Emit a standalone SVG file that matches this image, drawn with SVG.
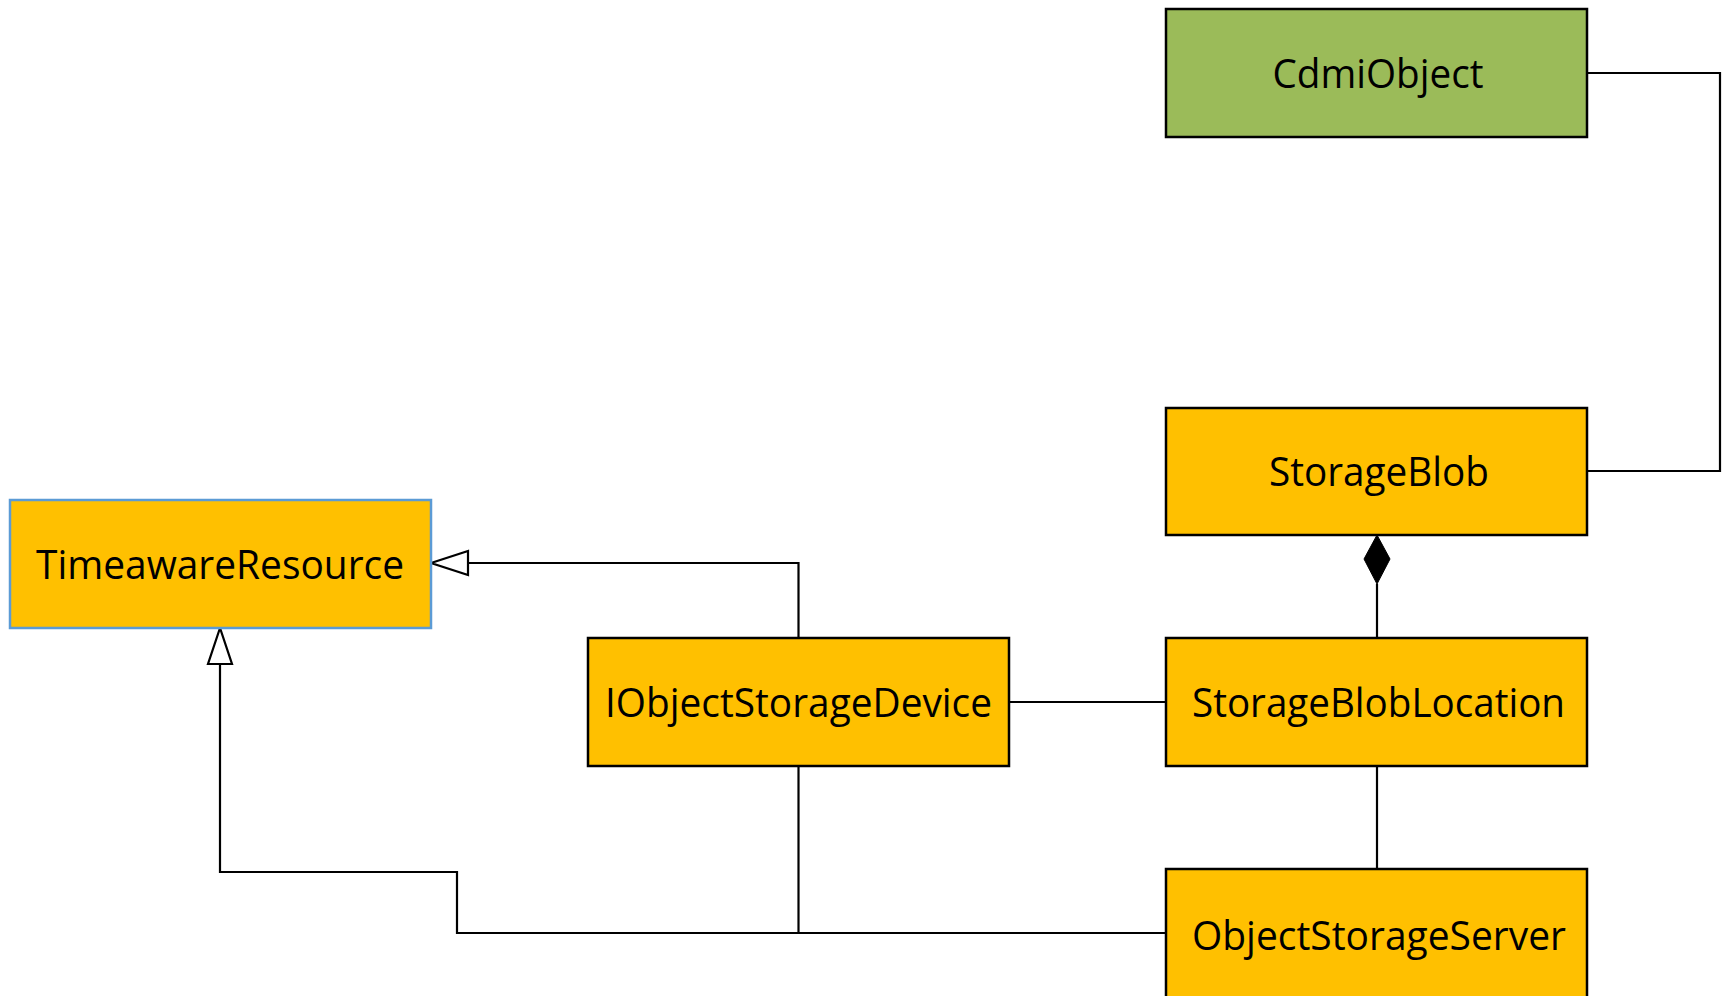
<svg xmlns="http://www.w3.org/2000/svg" width="1727" height="996" viewBox="0 0 1727 996">
<style>
.box{fill:#FFC000;stroke:#000;stroke-width:2.5}
.green{fill:#9BBB59}
.blue{stroke:#5B9BD5}
.lbl{font-family:"Open Sans","Liberation Sans",sans-serif;font-size:40px;fill:#000;text-anchor:middle}
.conn{fill:none;stroke:#000;stroke-width:2.2}
</style>
<defs>
<marker id="gen" markerWidth="40" markerHeight="30" viewBox="0 0 40 30" refX="1" refY="15" orient="auto-start-reverse" markerUnits="userSpaceOnUse">
<path d="M1,15 L37,3 L37,27 Z" fill="#fff" stroke="#000" stroke-width="2.2"/>
</marker>
</defs>
<rect width="1727" height="996" fill="#fff"/>
<g id="connectors">
<path class="conn" d="M1587,73 H1720 V471 H1587"/>
<path class="conn" d="M798.5,638 V563 H468"/>
<path d="M431,563 L468,551 L468,575 Z" fill="#fff" stroke="#000" stroke-width="2.2"/>
<path class="conn" d="M1009,702 H1166"/>
<path class="conn" d="M1377,638 V584"/>
<path d="M1377,535 L1390,559 L1377,584 L1364,559 Z" fill="#000" stroke="#000" stroke-width="1"/>
<path class="conn" d="M1377,766 V869"/>
<path class="conn" d="M1166,933 H457 V872 H220 V664"/>
<path d="M220,628 L208,664 L232,664 Z" fill="#fff" stroke="#000" stroke-width="2.2"/>
<path class="conn" d="M798.5,766 V933"/>
</g>
<g id="CdmiObject">
<rect class="box green" x="1166" y="9" width="421" height="128"/>
<text class="lbl" x="1378" y="88" textLength="211" lengthAdjust="spacingAndGlyphs">CdmiObject</text>
</g>
<g id="StorageBlob">
<rect class="box" x="1166" y="408" width="421" height="127"/>
<text class="lbl" x="1379" y="486" textLength="220" lengthAdjust="spacingAndGlyphs">StorageBlob</text>
</g>
<g id="TimeawareResource">
<rect class="box blue" x="10" y="500" width="421" height="128"/>
<text class="lbl" x="220" y="579" textLength="368" lengthAdjust="spacingAndGlyphs">TimeawareResource</text>
</g>
<g id="IObjectStorageDevice">
<rect class="box" x="588" y="638" width="421" height="128"/>
<text class="lbl" x="798.5" y="717" textLength="387" lengthAdjust="spacingAndGlyphs">IObjectStorageDevice</text>
</g>
<g id="StorageBlobLocation">
<rect class="box" x="1166" y="638" width="421" height="128"/>
<text class="lbl" x="1378.5" y="717" textLength="373" lengthAdjust="spacingAndGlyphs">StorageBlobLocation</text>
</g>
<g id="ObjectStorageServer">
<rect class="box" x="1166" y="869" width="421" height="130"/>
<text class="lbl" x="1379" y="950" textLength="374" lengthAdjust="spacingAndGlyphs">ObjectStorageServer</text>
</g>
</svg>
